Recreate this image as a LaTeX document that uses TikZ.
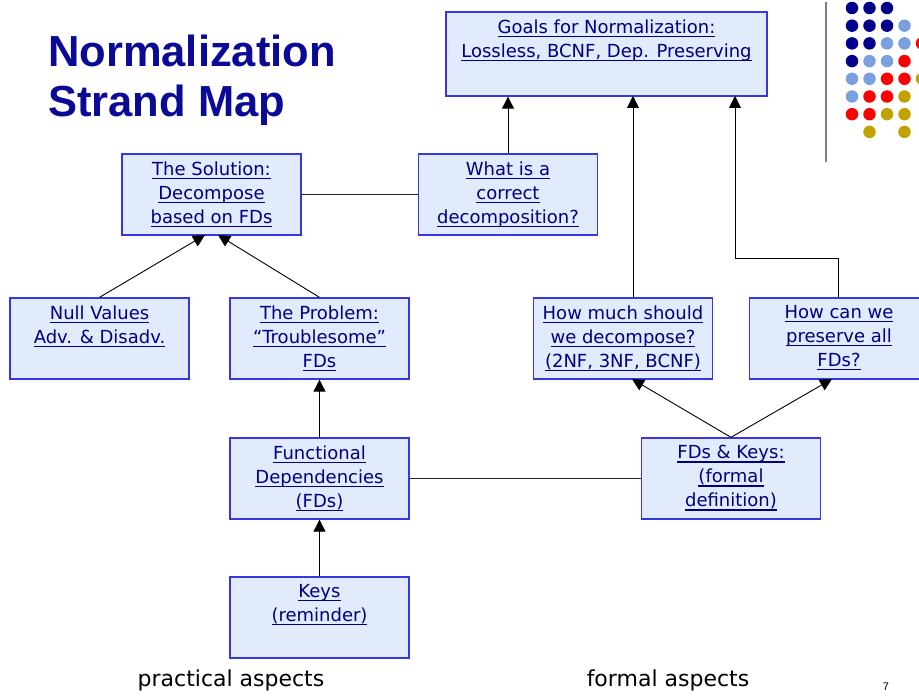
\documentclass[tikz,border=0pt]{standalone}
\usepackage{fontspec}
\setmainfont{DejaVu Sans}
\newfontfamily\titlefont{Liberation Sans}
\usetikzlibrary{arrows.meta}
\definecolor{boxfill}{RGB}{226,235,252}
\definecolor{boxline}{RGB}{55,55,225}
\definecolor{txtblue}{RGB}{0,0,128}
\definecolor{titleblue}{RGB}{10,10,150}
\definecolor{dnavy}{RGB}{0,0,140}
\definecolor{dlight}{RGB}{122,160,224}
\definecolor{dred}{RGB}{255,0,0}
\definecolor{dgold}{RGB}{194,162,0}
\newcommand{\ulx}[1]{\setbox0\hbox{#1}\rlap{\rule[-3.6pt]{\wd0}{1.3pt}}\box0}
\tikzset{
  box/.style={draw=boxline, line width=1.3pt, fill=boxfill, minimum width=179pt, minimum height=81pt, inner sep=0pt},
  boxtext/.style={anchor=north, align=center, text=txtblue, inner sep=0pt, yshift=-8pt, font=\fontsize{18}{24}\selectfont},
  arr/.style={-{Triangle[length=12pt,width=12pt]}, line width=0.9pt},
  conn/.style={line width=0.9pt, draw=black!85},
  dot/.style={circle, inner sep=0pt, minimum size=12.5pt},
  aspect/.style={font=\fontsize{22}{24}\selectfont, text=black}
}
\begin{document}
\begin{tikzpicture}[x=1pt,y=-1pt]
\useasboundingbox (0,0) rectangle (919,698);

% title
\node[anchor=north west, align=left, text=titleblue, inner sep=0pt,
  font=\titlefont\bfseries\fontsize{43.5}{50}\selectfont] (title) at (48,35) {Normalization\\Strand Map};

% separator and dots
\coordinate (sepA) at (826,2);
\coordinate (sepB) at (826,162);
\draw[line width=2pt, draw=black!50] (sepA) -- (sepB);
\foreach \c/\col/\row in {
 dnavy/0/0, dnavy/1/0, dnavy/2/0,
 dnavy/0/1, dnavy/1/1, dnavy/2/1, dlight/3/1,
 dnavy/0/2, dnavy/1/2, dlight/2/2, dlight/3/2, dred/4/2,
 dnavy/0/3, dlight/1/3, dlight/2/3, dred/3/3,
 dlight/0/4, dlight/1/4, dred/2/4, dred/3/4, dgold/4/4,
 dlight/0/5, dred/1/5, dred/2/5, dgold/3/5,
 dred/0/6, dred/1/6, dgold/2/6, dgold/3/6,
 dgold/1/7, dgold/3/7}
 \node[dot, fill=\c] (d\col\row) at ({852+17.5*\col},{8+17.7*\row}) {};

% boxes
\node[box, minimum width=321pt, minimum height=84pt] (goals) at (606.5,54) {};
\node[boxtext] (goalsT) at (goals.north) {\ulx{Goals for Normalization:}\\\ulx{Lossless, BCNF, Dep. Preserving}};

\node[box] (sol) at (211.5,194.5) {};
\node[boxtext] (solT) at (sol.north) {\ulx{The Solution:}\\\ulx{Decompose}\\\ulx{based on FDs}};

\node[box] (what) at (508,194.5) {};
\node[boxtext] (whatT) at (what.north) {\ulx{What is a}\\\ulx{correct}\\\ulx{decomposition?}};

\node[box] (null) at (99.5,338.5) {};
\node[boxtext] (nullT) at (null.north) {\ulx{Null Values}\\\ulx{Adv. \& Disadv.}};

\node[box] (prob) at (319.5,338.5) {};
\node[boxtext] (probT) at (prob.north) {\ulx{The Problem:}\\\ulx{“Troublesome”}\\\ulx{FDs}};

\node[box] (much) at (623,338.5) {};
\node[boxtext] (muchT) at (much.north) {\ulx{How much should}\\\ulx{we decompose?}\\\ulx{(2NF, 3NF, BCNF)}};

\node[box] (pres) at (839,338.5) {};
\node[boxtext] (presT) at (pres.north) {\ulx{How can we}\\\ulx{preserve all}\\\ulx{FDs?}};

\node[box] (fd) at (319.5,478.5) {};
\node[boxtext] (fdT) at (fd.north) {\ulx{Functional}\\\ulx{Dependencies}\\\ulx{(FDs)}};

\node[box] (fdk) at (731,478.5) {};
\node[boxtext] (fdkT) at (fdk.north) {\ulx{FDs \& Keys:}\\\ulx{(formal}\\\ulx{definition)}};

\node[box] (keys) at (319.5,617.5) {};
\node[boxtext] (keysT) at (keys.north) {\ulx{Keys}\\\ulx{(reminder)}};

% connectors
\coordinate (muchUp) at (633,96);
\coordinate (presBend) at (838,258);
\coordinate (presBend2) at (735,258);
\coordinate (presUp) at (735,96);
\coordinate (solIn1) at (205,235);
\coordinate (solIn2) at (218,235);
\coordinate (muchIn) at (632,379);
\coordinate (presIn) at (832,379);
\draw[arr] (what.north) -- (what.north |- goals.south);
\draw[conn] (sol.east) -- (what.west);
\draw[arr] (much.north -| muchUp) -- (muchUp);
\draw[arr] (pres.north -| presBend) -- (presBend) -- (presBend2) -- (presUp);
\draw[arr] (null.north) -- (solIn1);
\draw[arr] (prob.north) -- (solIn2);
\draw[arr] (fd.north) -- (prob.south);
\draw[arr] (keys.north) -- (fd.south);
\draw[conn] (fd.east) -- (fdk.west);
\draw[arr] (fdk.north) -- (muchIn);
\draw[arr] (fdk.north) -- (presIn);

% bottom labels
\node[aspect] (prac) at (231,680) {practical aspects};
\node[aspect] (form) at (668,680) {formal aspects};
\node[font=\titlefont\fontsize{11}{12}\selectfont] (pg) at (886,687) {7};
\end{tikzpicture}
\end{document}
